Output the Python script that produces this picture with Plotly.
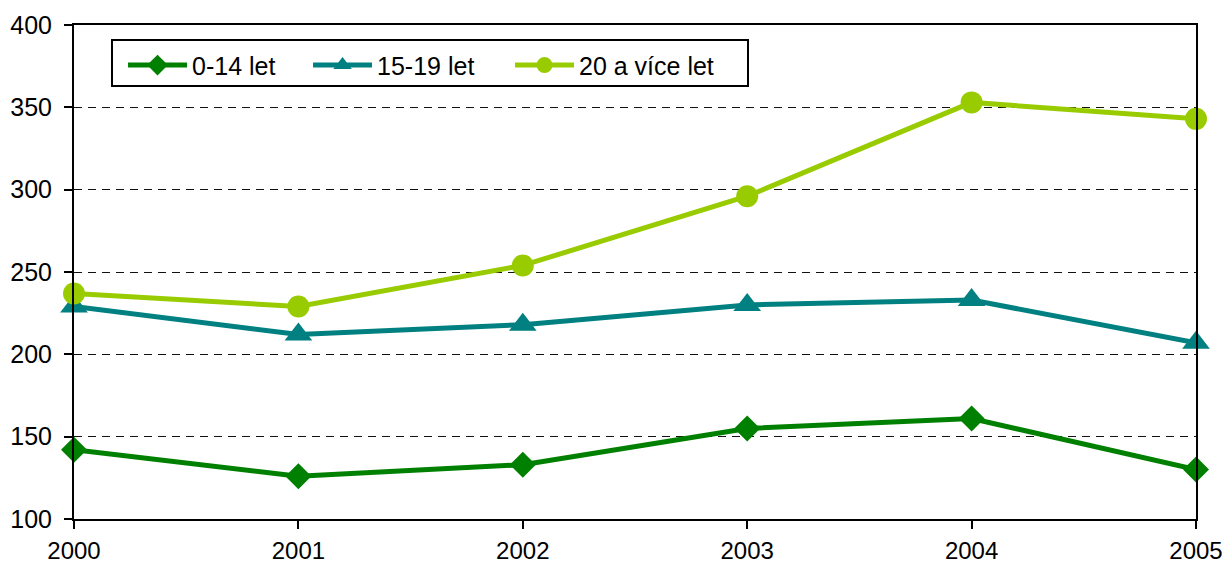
import plotly.graph_objects as go

years = [2000, 2001, 2002, 2003, 2004, 2005]
s_0_14 = [142, 126, 133, 155, 161, 130]
s_15_19 = [229, 212, 218, 230, 233, 207]
s_20_plus = [237, 229, 254, 296, 353, 343]
names = ["0-14 let", "15-19 let", "20 a více let"]
colors = ["#008000", "#008080", "#99CC00"]
symbols = ["diamond", "triangle-up", "circle"]
sizes = [20, 24, 22]
y_ticks = [100, 150, 200, 250, 300, 350, 400]

legend_ids = ["legend", "legend2", "legend3"]
legend_x = [0.0437, 0.2086, 0.3886]

fig = go.Figure()
for vals, name, col, sym, sz, lg in zip([s_0_14, s_15_19, s_20_plus], names, colors, symbols, sizes, legend_ids):
    fig.add_trace(go.Scatter(
        x=years, y=vals, name=name, mode="lines+markers",
        line=dict(color=col, width=5),
        marker=dict(symbol=sym, size=sz, color=col),
        cliponaxis=False, legend=lg,
    ))

legend_common = dict(
    orientation="h", y=0.965, xanchor="left", yanchor="top",
    borderwidth=0, bgcolor="rgba(0,0,0,0)",
    font=dict(size=25), itemwidth=59,
)
layout_legends = {}
for lg, lx in zip(legend_ids, legend_x):
    layout_legends[lg] = dict(legend_common, x=lx)

fig.update_layout(
    width=1227, height=567,
    margin=dict(l=74, r=31, t=25, b=48),
    paper_bgcolor="white", plot_bgcolor="white",
    font=dict(family="Liberation Sans, Arial", size=25, color="black"),
    showlegend=True,
    xaxis=dict(
        range=[2000, 2005], tickvals=years, ticktext=[str(y) for y in years],
        showgrid=False, zeroline=False, automargin=False,
        showline=True, linecolor="black", linewidth=2, mirror=True,
        ticks="outside", ticklen=8, tickwidth=2, tickcolor="black",
        tickfont=dict(size=24), ticklabelstandoff=1,
    ),
    yaxis=dict(
        range=[100, 400], tickvals=y_ticks,
        showgrid=True, gridcolor="#111111", gridwidth=1, griddash="8px,6px",
        zeroline=False, automargin=False,
        showline=True, linecolor="black", linewidth=2, mirror=True,
        ticks="outside", ticklen=8, tickwidth=2, tickcolor="black",
        tickfont=dict(size=25), ticklabelstandoff=7,
    ),
    shapes=[dict(
        type="rect", xref="paper", yref="paper",
        x0=(112 - 74) / 1122, x1=(748 - 74) / 1122,
        y0=1 - (86 - 25) / 494, y1=1 - (40 - 25) / 494,
        line=dict(color="black", width=2), fillcolor="white", layer="above",
    )],
    **layout_legends,
)

fig.write_html("out.html", config={"displayModeBar": False},
               post_script="document.body.style.margin='0';")
